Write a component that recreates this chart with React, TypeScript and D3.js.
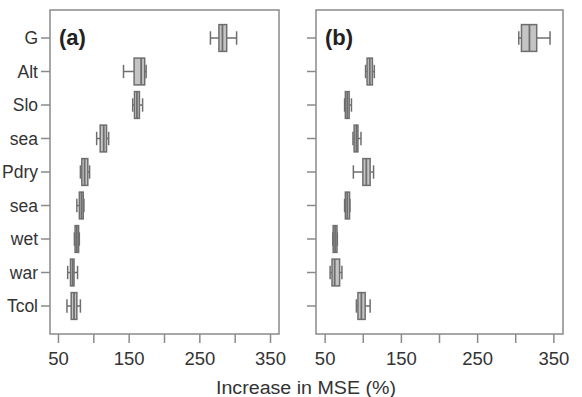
import React from 'react';
import * as d3 from 'd3';

// variable names (left part of some labels is cut off in the original figure)
const categories = ['G', 'Alt', 'Slo', 'sea', 'Pdry', 'sea', 'wet', 'war', 'Tcol'];

// five-number summaries [lower whisker, q1, median, q3, upper whisker]
const statsA: number[][] = [
  [265, 277, 282, 288, 302],
  [142, 157, 167, 172, 174],
  [155, 157.5, 161, 164.5, 169],
  [104, 109, 114, 118, 121],
  [81, 83, 87, 91.5, 94],
  [76, 79.5, 82.5, 85, 86],
  [72.5, 73.5, 76, 78.5, 79.5],
  [63, 67, 70, 72, 77],
  [62, 68, 72, 76, 81],
];

const statsB: number[][] = [
  [304, 307.5, 318, 327.5, 345],
  [103, 105, 108.5, 112, 114.5],
  [75.5, 76.5, 79, 81.5, 84.5],
  [86.5, 88, 91, 93, 97],
  [87, 99.5, 104, 109, 113.5],
  [75.5, 76.5, 79, 82, 82.5],
  [60, 60.5, 63, 65.5, 66],
  [56.5, 59, 62.5, 69, 72],
  [91, 93, 97.5, 102.5, 109],
];

const panelLabels = ['(a)', '(b)'];
const xTicks = [50, 100, 150, 200, 250, 300, 350];
const xTickLabels = [50, 150, 250, 350];
const xDomain: [number, number] = [38, 362];
const xTitle = 'Increase in MSE (%)';

const W = 582;
const H = 397;
const top = 10;
const bottom = 334;
const font = '"Liberation Sans", Arial, sans-serif';
const frameColor = '#8a8a8a';
const boxStroke = '#6e6e6e';
const boxFill = '#c4c4c4';
const textColor = '#333';

const y = d3.scalePoint<string>()
  .domain(categories.map((_, i) => String(i)))
  .range([top + 28, bottom - 28]);

const step = y.step();
const halfBox = step * 0.4;

interface PanelProps {
  x0: number;
  x1: number;
  stats: number[][];
  label: string;
  showLabels: boolean;
}

const Panel: React.FC<PanelProps> = ({ x0, x1, stats, label, showLabels }) => {
  const x = d3.scaleLinear().domain(xDomain).range([x0, x1]);
  return (
    <g>
      {/* y ticks */}
      {categories.map((c, i) => {
        const cy = y(String(i)) as number;
        return (
          <g key={'yt' + i}>
            <line x1={x0 - 9} x2={x0} y1={cy} y2={cy} stroke={frameColor} strokeWidth={1.5} />
            {showLabels && (
              <text x={x0 - 12} y={cy + 6} textAnchor="end" fontSize={17.5} fontFamily={font} fill={textColor}>
                {c}
              </text>
            )}
          </g>
        );
      })}
      {/* x ticks */}
      {xTicks.map(t => (
        <line key={'xt' + t} x1={x(t)} x2={x(t)} y1={bottom} y2={bottom + 9} stroke={frameColor} strokeWidth={1.5} />
      ))}
      {xTickLabels.map(t => (
        <text key={'xl' + t} x={x(t)} y={365} textAnchor="middle" fontSize={18.5} fontFamily={font} fill={textColor}>
          {t}
        </text>
      ))}
      {/* boxes */}
      {stats.map((s, i) => {
        const cy = y(String(i)) as number;
        const [lo, q1, med, q3, hi] = s;
        const cap = halfBox / 2;
        return (
          <g key={'b' + i} stroke={boxStroke} strokeWidth={1.5}>
            <line x1={x(lo)} x2={x(q1)} y1={cy} y2={cy} />
            <line x1={x(q3)} x2={x(hi)} y1={cy} y2={cy} />
            <line x1={x(lo)} x2={x(lo)} y1={cy - cap} y2={cy + cap} />
            <line x1={x(hi)} x2={x(hi)} y1={cy - cap} y2={cy + cap} />
            <rect x={x(q1)} y={cy - halfBox} width={x(q3) - x(q1)} height={halfBox * 2} fill={boxFill} />
            <line x1={x(med)} x2={x(med)} y1={cy - halfBox} y2={cy + halfBox} strokeWidth={1.8} />
          </g>
        );
      })}
      {/* frame */}
      <rect x={x0} y={top} width={x1 - x0} height={bottom - top} fill="none" stroke={frameColor} strokeWidth={1.5} />
      <text x={x0 + 9} y={45} fontSize={22} fontWeight="bold" fontFamily={font} fill="#222">
        {label}
      </text>
    </g>
  );
};

export default function App() {
  return (
    <svg
      width={W}
      height={H}
      style={{ position: 'absolute', left: 0, top: 0, background: '#fff' }}
    >
      <Panel x0={50} x1={279} stats={statsA} label={panelLabels[0]} showLabels />
      <Panel x0={316} x1={563} stats={statsB} label={panelLabels[1]} showLabels={false} />
      <text x={306} y={394} textAnchor="middle" fontSize={18} fontFamily={font} fill={textColor}
        textLength={180} lengthAdjust="spacingAndGlyphs">
        {xTitle}
      </text>
    </svg>
  );
}
